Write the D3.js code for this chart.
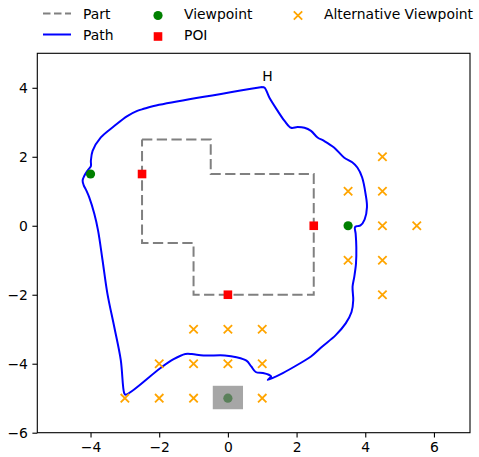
<!DOCTYPE html>
<html>
<head>
<meta charset="utf-8">
<script src="https://cdn.jsdelivr.net/npm/d3@7"></script>
<style>
  body { margin: 0; background: #fff; }
  text { font-family: "DejaVu Sans", sans-serif; }
</style>
</head>
<body>
<svg id="chart" width="479" height="457"></svg>
<script>
// outline of the part (closed polygon)
const partPoints = [
  [-2.5, 2.5], [-0.5, 2.5], [-0.5, 1.5], [2.5, 1.5], [2.5, -2],
  [-1, -2], [-1, -0.5], [-2.5, -0.5], [-2.5, 2.5]
];

// flight path, starts and ends at H
const pathPoints = [
  [1.0, 4.02], [-2.16, 3.47], [-2.45, 3.39], [-2.64, 3.33], [-2.93, 3.18], [-3.31, 2.89],
  [-3.7, 2.56], [-3.94, 2.17], [-3.99, 1.88], [-3.99, 1.73], [-4.08, 1.61],
  [-4.18, 1.45], [-4.23, 1.31], [-4.2, 1.18], [-4.12, 1.02], [-4.04, 0.83],
  [-3.89, 0.35], [-3.78, -0.14], [-3.65, -1.0], [-3.51, -1.96], [-3.31, -2.93],
  [-3.12, -3.89], [-3.02, -4.85], [-2.98, -4.9], [-1.97, -4.13], [-1.58, -3.87],
  [-1.24, -3.72], [-1.05, -3.72], [-0.71, -3.76], [-0.09, -3.76], [0.25, -3.81],
  [0.54, -3.91], [0.68, -4.08], [0.81, -4.24], [1.02, -4.27], [1.19, -4.32],
  [1.26, -4.37], [1.16, -4.47], [1.6, -4.27], [2.03, -4.03], [2.42, -3.79],
  [2.75, -3.5], [3.14, -3.17], [3.43, -2.83], [3.6, -2.5], [3.65, -2.16],
  [3.63, -1.77], [3.68, -1.48], [3.73, -1.1], [3.74, -0.62], [3.72, -0.23],
  [3.7, -0.04], [3.77, -0.01], [3.86, 0.01], [3.98, 0.18], [4.05, 0.54],
  [4.01, 0.92], [3.91, 1.4], [3.77, 1.69], [3.62, 1.84], [3.38, 1.98],
  [3.09, 2.27], [2.8, 2.46], [2.61, 2.56], [2.42, 2.75], [2.23, 2.84],
  [2.03, 2.86], [1.84, 2.84], [1.65, 3.04], [1.45, 3.33], [1.21, 3.71],
  [1.07, 4.0], [1.0, 4.02]
];

const viewpoints = [[-4, 1.5], [3.5, 0], [0, -5]];
const pois = [[-2.5, 1.5], [2.5, 0], [0, -2]];
const altViewpoints = [
  [4.5, 2], [3.5, 1], [4.5, 1], [4.5, 0], [5.5, 0], [3.5, -1], [4.5, -1], [4.5, -2],
  [-1, -3], [0, -3], [1, -3],
  [-2, -4], [-1, -4], [0, -4], [1, -4],
  [-3, -5], [-2, -5], [-1, -5], [1, -5]
];
// highlighted (selected) viewpoint box: x, y, width, height in data units
const selectedBox = [-0.44, -5.32, 0.88, 0.68];
const homeLabel = { x: 1, y: 4.2, text: "H" };

const xTicks = [-4, -2, 0, 2, 4, 6];
const yTicks = [-6, -4, -2, 0, 2, 4];
const legendItems = [
  { label: "Part", kind: "dash" },
  { label: "Path", kind: "line" },
  { label: "Viewpoint", kind: "circle" },
  { label: "POI", kind: "square" },
  { label: "Alternative Viewpoint", kind: "x" }
];

const margin = { top: 53.3, right: 9, bottom: 24.3, left: 37.3 };
const width = 479, height = 457;

const svg = d3.select("#chart");

const x = d3.scaleLinear().domain([-5.55, 7.05]).range([margin.left, width - margin.right]);
const y = d3.scaleLinear().domain([-6, 5]).range([height - margin.bottom, margin.top]);

const line = d3.line().x(d => x(d[0])).y(d => y(d[1]));
const smoothLine = d3.line().x(d => x(d[0])).y(d => y(d[1])).curve(d3.curveCatmullRom.alpha(0.5));

const plot = svg.append("g");

// part outline
plot.append("path")
  .attr("d", line(partPoints))
  .attr("fill", "none")
  .attr("stroke", "#808080")
  .attr("stroke-width", 2)
  .attr("stroke-dasharray", "10.3,4.4");

// path
plot.append("path")
  .attr("d", smoothLine(pathPoints))
  .attr("fill", "none")
  .attr("stroke", "#0000ff")
  .attr("stroke-width", 2)
  .attr("stroke-linejoin", "round");

plot.append("text")
  .attr("x", x(homeLabel.x))
  .attr("y", y(homeLabel.y))
  .attr("font-size", 13.9)
  .attr("fill", "#000")
  .text(homeLabel.text);

plot.selectAll("circle.vp")
  .data(viewpoints)
  .enter().append("circle")
  .attr("class", "vp")
  .attr("cx", d => x(d[0]))
  .attr("cy", d => y(d[1]))
  .attr("r", 4.6)
  .attr("fill", "#008000");

plot.selectAll("rect.poi")
  .data(pois)
  .enter().append("rect")
  .attr("class", "poi")
  .attr("x", d => x(d[0]) - 4.3)
  .attr("y", d => y(d[1]) - 4.3)
  .attr("width", 8.6)
  .attr("height", 8.6)
  .attr("fill", "#ff0000");

const xMark = (cx, cy, s) => `M${cx - s},${cy - s}L${cx + s},${cy + s}M${cx - s},${cy + s}L${cx + s},${cy - s}`;

plot.selectAll("path.alt")
  .data(altViewpoints)
  .enter().append("path")
  .attr("class", "alt")
  .attr("d", d => xMark(x(d[0]), y(d[1]), 4.2))
  .attr("stroke", "#ffa500")
  .attr("stroke-width", 1.8)
  .attr("fill", "none");

plot.append("rect")
  .attr("x", x(selectedBox[0]))
  .attr("y", y(selectedBox[1] + selectedBox[3]))
  .attr("width", x(selectedBox[0] + selectedBox[2]) - x(selectedBox[0]))
  .attr("height", y(selectedBox[1]) - y(selectedBox[1] + selectedBox[3]))
  .attr("fill", "#808080")
  .attr("fill-opacity", 0.7);

// axes
const xAxis = svg.append("g")
  .attr("transform", `translate(0,${height - margin.bottom})`)
  .call(d3.axisBottom(x).tickValues(xTicks).tickSize(4.9).tickPadding(4.5));
const yAxis = svg.append("g")
  .attr("transform", `translate(${margin.left},0)`)
  .call(d3.axisLeft(y).tickValues(yTicks).tickSize(4.9).tickPadding(4.5));

[xAxis, yAxis].forEach(a => {
  a.select(".domain").remove();
  a.selectAll("line").attr("stroke", "#000").attr("stroke-width", 1.1);
  a.selectAll("text").attr("font-size", 13.9).attr("fill", "#000")
    .attr("font-family", "DejaVu Sans, sans-serif");
});

// frame
svg.append("rect")
  .attr("x", margin.left)
  .attr("y", margin.top)
  .attr("width", width - margin.right - margin.left)
  .attr("height", height - margin.bottom - margin.top)
  .attr("fill", "none")
  .attr("stroke", "#000")
  .attr("stroke-width", 1.1);

// legend, 3 columns, 2 rows
const legend = svg.append("g");
const colX = [43, 144, 284];
const rowY = [13.5, 34.5];
legendItems.forEach((item, i) => {
  const col = Math.floor(i / 2), row = i % 2;
  const g = legend.append("g").attr("transform", `translate(${colX[col]},${rowY[row]})`);
  const hx = 14;
  if (item.kind === "dash") {
    g.append("line").attr("x1", 0).attr("x2", 28).attr("y1", 0).attr("y2", 0)
      .attr("stroke", "#808080").attr("stroke-width", 2).attr("stroke-dasharray", "7.5,3.5");
  } else if (item.kind === "line") {
    g.append("line").attr("x1", 0).attr("x2", 28).attr("y1", 0).attr("y2", 0)
      .attr("stroke", "#0000ff").attr("stroke-width", 2);
  } else if (item.kind === "circle") {
    g.append("circle").attr("cx", hx).attr("cy", 2).attr("r", 4.6).attr("fill", "#008000");
  } else if (item.kind === "square") {
    g.append("rect").attr("x", hx - 4.3).attr("y", -2.3).attr("width", 8.6).attr("height", 8.6).attr("fill", "#ff0000");
  } else {
    g.append("path").attr("d", xMark(hx, 2, 4.2)).attr("stroke", "#ffa500").attr("stroke-width", 1.8);
  }
  g.append("text")
    .attr("x", 40)
    .attr("y", 5)
    .attr("font-size", 13.9)
    .attr("fill", "#000")
    .text(item.label);
});
</script>
</body>
</html>
